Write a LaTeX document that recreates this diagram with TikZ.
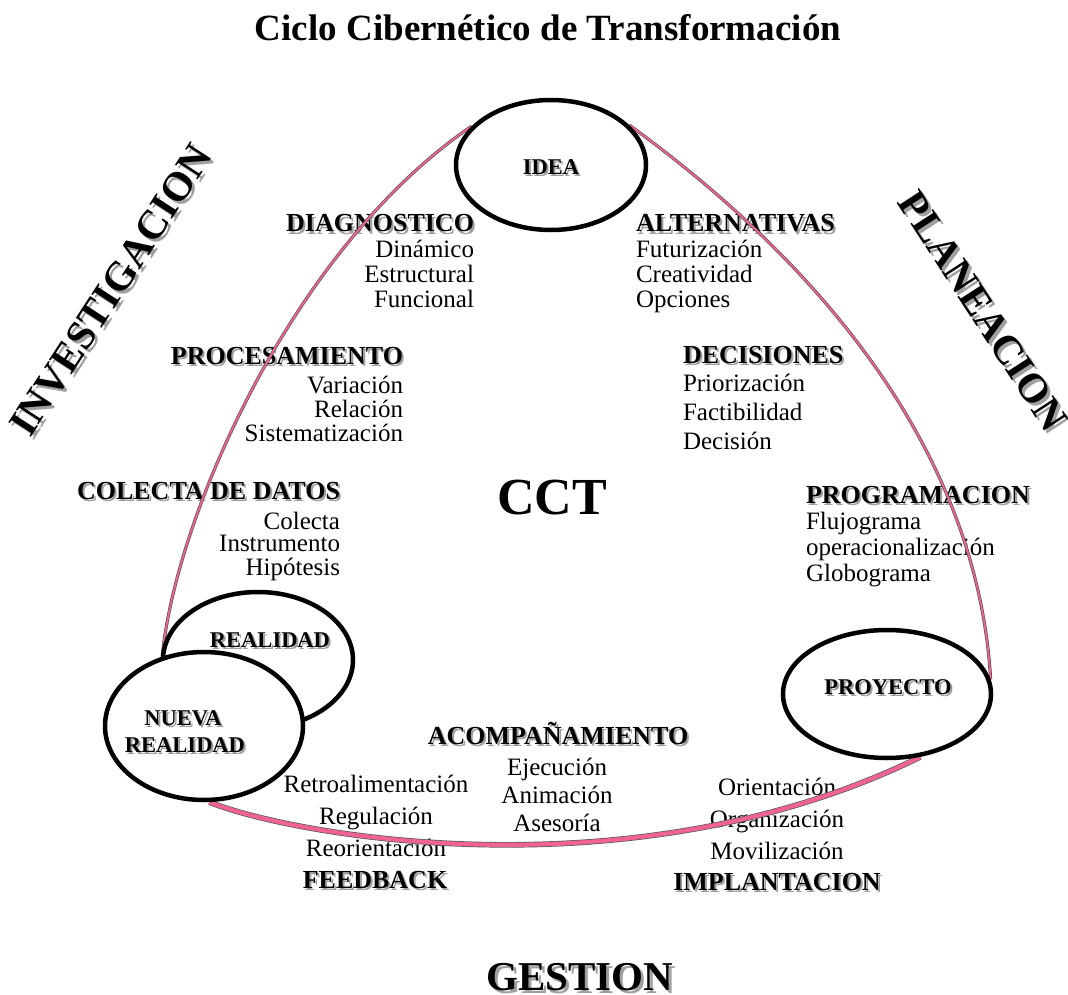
\documentclass[tikz,border=0pt]{standalone}
\usepackage{fontspec}
\setmainfont{Liberation Serif}
\usetikzlibrary{shapes.geometric}
\pgfdeclarelayer{words}
\pgfdeclarelayer{arcs}
\pgfsetlayers{words,arcs,main}
\definecolor{cyclepink}{RGB}{238,98,148}
\definecolor{shadowgray}{RGB}{160,160,160}

% text with a soft grey drop shadow
\newcommand\shoff{2}
\newcommand\shadowed[4][]{%
  \node[#1, text=shadowgray] (#2-sh) at ([shift={(\shoff,\shoff)}]#3) {#4};
  \node[#1] (#2) at (#3) {#4};}

\tikzset{
  txt/.style={inner sep=0pt, outer sep=0pt},
  head/.style={txt, font=\bfseries\fontsize{26}{26}\selectfont},
  item/.style={txt, font=\fontsize{25}{25}\selectfont},
  side/.style={txt, font=\bfseries\fontsize{41}{41}\selectfont},
  tag/.style={txt, font=\bfseries\fontsize{22.5}{22.5}\selectfont},
  stage/.style={ellipse, draw=black, line width=4.5pt, fill=white, inner sep=0pt},
  arc/.style={draw=black!65, line width=0.7pt, double=cyclepink, double distance=1.8pt},
  thickarc/.style={draw=black!65, line width=0.7pt, double=cyclepink, double distance=4.2pt},
}

\begin{document}
\begin{tikzpicture}[x=1pt,y=-1pt]
\useasboundingbox (0,0) rectangle (1068,995);

% ---- stages of the cycle
\node[stage, minimum width=190, minimum height=130] (idea) at (551,165) {};
\node[stage, minimum width=190, minimum height=136] (realidad) at (258,660) {};
\node[stage, minimum width=198, minimum height=148] (nueva) at (204,726) {};
\node[stage, minimum width=208, minimum height=128] (proyecto) at (887,694) {};

\shadowed[tag]{idealbl}{551,167}{IDEA}
\shadowed[tag]{reallbl}{270,640}{REALIDAD}
\shadowed[tag]{nuevalbl}{183,718}{NUEVA}
\shadowed[tag]{nuevalbltwo}{185,745}{REALIDAD}
\shadowed[tag]{proylbl}{888,687}{PROYECTO}

% ---- arcs joining the stages
\begin{pgfonlayer}{arcs}
\draw[arc] (nueva.121) .. controls (175,520) and (290,250) .. (idea.154);
\draw[arc] (idea.27) .. controls (760,220) and (975,410) .. (proyecto.8);
\draw[thickarc] (nueva.-86) .. controls (300,838) and (640,895) .. (proyecto.-62);
\end{pgfonlayer}

% ---- texts
\begin{pgfonlayer}{words}
\node[txt, font=\bfseries\fontsize{37}{37}\selectfont, anchor=base] (title) at (548,41) {Ciclo Cibernético de Transformación};
\node[txt, font=\bfseries\fontsize{52}{52}\selectfont, anchor=base] (cct) at (552,514) {CCT};

\shadowed[head, anchor=base east]{diag}{474,232}{DIAGNOSTICO}
\foreach \w [count=\i] in {Dinámico,Estructural,Funcional}
  \node[item, anchor=base east] (diag\i) at (474,232+25*\i) {\w};

\shadowed[head, anchor=base west]{alt}{636,232}{ALTERNATIVAS}
\foreach \w [count=\i] in {Futurización,Creatividad,Opciones}
  \node[item, anchor=base west] (alt\i) at (636,232+25*\i) {\w};

\shadowed[head, anchor=base east]{proc}{403,364}{PROCESAMIENTO}
\foreach \w [count=\i] in {Variación,Relación,Sistematización}
  \node[item, anchor=base east] (proc\i) at (403,369+24*\i) {\w};

\shadowed[head, anchor=base west]{dec}{683,363}{DECISIONES}
\foreach \w [count=\i] in {Priorización,Factibilidad,Decisión}
  \node[item, anchor=base west] (dec\i) at (683,362+29*\i) {\w};

\shadowed[head, anchor=base east]{col}{340,499}{COLECTA DE DATOS}
\foreach \w/\y [count=\i] in {Colecta/529,Instrumento/551,Hipótesis/575}
  \node[item, anchor=base east] (col\i) at (340,\y) {\w};

\shadowed[head, anchor=base west]{prog}{806,503}{PROGRAMACION}
\foreach \w [count=\i] in {Flujograma,operacionalización,Globograma}
  \node[item, anchor=base west] (prog\i) at (806,503+26*\i) {\w};

\shadowed[head, anchor=base]{acomp}{558,744}{ACOMPAÑAMIENTO}
\foreach \w [count=\i] in {Ejecución,Animación,Asesoría}
  \node[item, anchor=base] (acomp\i) at (557,747+28*\i) {\w};

\foreach \w [count=\i] in {Retroalimentación,Regulación,Reorientación}
  \node[item, anchor=base] (feed\i) at (376,760+32*\i) {\w};
\shadowed[head, anchor=base]{feed}{375,888}{FEEDBACK}

\foreach \w [count=\i] in {Orientación,Organización,Movilización}
  \node[item, anchor=base] (impl\i) at (777,763+32*\i) {\w};
\shadowed[head, anchor=base]{impl}{777,890}{IMPLANTACION}

% ---- the three phases
\renewcommand\shoff{3}
\shadowed[side, rotate=57]{invest}{111,290}{INVESTIGACION}
\shadowed[side, rotate=-57]{plan}{983,311}{PLANEACION}
\shadowed[side, anchor=base]{gest}{580,990}{GESTION}
\end{pgfonlayer}
\end{tikzpicture}
\end{document}
